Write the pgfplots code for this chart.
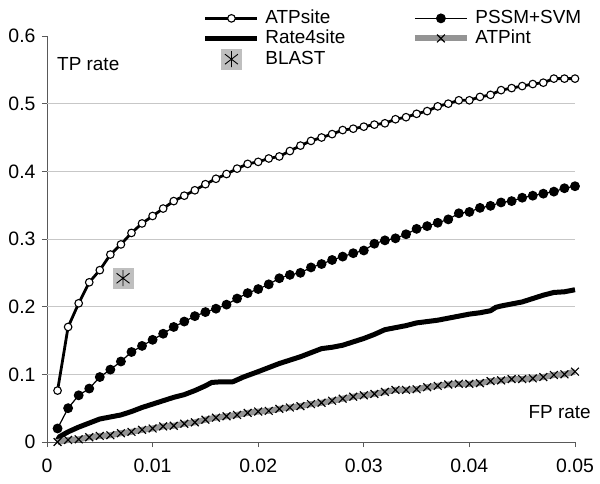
\documentclass[border=0pt]{standalone}
\usepackage{pgfplots}
\usepackage{pgfplotstable}
\pgfplotsset{compat=1.18}
\usepackage{fontspec}
\setmainfont{Liberation Sans}

\pgfdeclareplotmark{blast}{%
  \pgfpathrectangle{\pgfpoint{-10.5bp}{-10.5bp}}{\pgfpoint{21bp}{21bp}}%
  \pgfsetfillcolor{black!25}\pgfusepathqfill
  \pgfsetlinewidth{0.9bp}%
  \pgfpathmoveto{\pgfpoint{0bp}{8bp}}\pgfpathlineto{\pgfpoint{0bp}{-8bp}}%
  \pgfpathmoveto{\pgfpoint{-6.5bp}{5bp}}\pgfpathlineto{\pgfpoint{6.5bp}{-5bp}}%
  \pgfpathmoveto{\pgfpoint{-6.5bp}{-5bp}}\pgfpathlineto{\pgfpoint{6.5bp}{5bp}}%
  \pgfusepathqstroke
}

\pgfplotstableread{
x y
0.001 0.076
0.002 0.170
0.003 0.205
0.004 0.236
0.005 0.254
0.006 0.277
0.007 0.292
0.008 0.309
0.009 0.323
0.010 0.334
0.011 0.345
0.012 0.356
0.013 0.364
0.014 0.372
0.015 0.381
0.016 0.389
0.017 0.396
0.018 0.404
0.019 0.411
0.020 0.414
0.021 0.419
0.022 0.422
0.023 0.430
0.024 0.438
0.025 0.445
0.026 0.450
0.027 0.455
0.028 0.461
0.029 0.463
0.030 0.466
0.031 0.469
0.032 0.471
0.033 0.477
0.034 0.480
0.035 0.485
0.036 0.489
0.037 0.496
0.038 0.500
0.039 0.505
0.040 0.505
0.041 0.510
0.042 0.513
0.043 0.520
0.044 0.523
0.045 0.526
0.046 0.529
0.047 0.531
0.048 0.537
0.049 0.537
0.050 0.537
}\atpsite

\pgfplotstableread{
x y
0.001 0.020
0.002 0.050
0.003 0.069
0.004 0.079
0.005 0.096
0.006 0.107
0.007 0.119
0.008 0.133
0.009 0.142
0.010 0.151
0.011 0.160
0.012 0.170
0.013 0.178
0.014 0.186
0.015 0.192
0.016 0.197
0.017 0.203
0.018 0.212
0.019 0.220
0.020 0.226
0.021 0.233
0.022 0.242
0.023 0.247
0.024 0.250
0.025 0.258
0.026 0.263
0.027 0.269
0.028 0.274
0.029 0.279
0.030 0.283
0.031 0.293
0.032 0.298
0.033 0.301
0.034 0.307
0.035 0.315
0.036 0.319
0.037 0.324
0.038 0.329
0.039 0.338
0.040 0.340
0.041 0.346
0.042 0.349
0.043 0.354
0.044 0.356
0.045 0.361
0.046 0.364
0.047 0.367
0.048 0.370
0.049 0.375
0.050 0.378
}\pssm

\pgfplotstableread{
x y
0.001 0.003
0.0012 0.008
0.002 0.015
0.003 0.022
0.004 0.028
0.005 0.034
0.006 0.037
0.007 0.040
0.008 0.045
0.009 0.051
0.010 0.056
0.011 0.061
0.012 0.066
0.013 0.070
0.014 0.076
0.015 0.083
0.0156 0.088
0.0165 0.089
0.0176 0.089
0.0186 0.096
0.020 0.104
0.021 0.110
0.022 0.116
0.023 0.121
0.024 0.126
0.025 0.132
0.026 0.138
0.027 0.140
0.028 0.143
0.029 0.148
0.030 0.153
0.031 0.159
0.032 0.166
0.033 0.169
0.034 0.172
0.035 0.176
0.036 0.178
0.037 0.180
0.038 0.183
0.039 0.186
0.040 0.189
0.041 0.191
0.042 0.194
0.0425 0.199
0.043 0.201
0.044 0.204
0.045 0.207
0.046 0.212
0.047 0.217
0.048 0.221
0.049 0.222
0.050 0.225
}\ratesite

\pgfplotstableread{
x y
0.001 0.000
0.002 0.003
0.003 0.004
0.004 0.007
0.005 0.009
0.006 0.010
0.007 0.013
0.008 0.015
0.009 0.018
0.010 0.020
0.011 0.023
0.012 0.024
0.013 0.027
0.014 0.029
0.015 0.033
0.016 0.036
0.017 0.038
0.018 0.040
0.019 0.043
0.020 0.045
0.021 0.046
0.022 0.049
0.023 0.051
0.024 0.053
0.025 0.056
0.026 0.058
0.027 0.061
0.028 0.064
0.029 0.067
0.030 0.069
0.031 0.071
0.032 0.074
0.033 0.077
0.034 0.077
0.035 0.078
0.036 0.081
0.037 0.083
0.038 0.085
0.039 0.086
0.040 0.086
0.041 0.087
0.042 0.090
0.043 0.091
0.044 0.093
0.045 0.093
0.046 0.094
0.047 0.096
0.048 0.099
0.049 0.100
0.050 0.104
}\atpint

\begin{document}
\fontsize{19}{21}\selectfont
\begin{tikzpicture}
\useasboundingbox (0,0) rectangle (600bp,484bp);
\begin{axis}[
  at={(47bp,42bp)}, anchor=south west,
  scale only axis, width=528bp, height=406bp,
  xmin=0, xmax=0.05, ymin=0, ymax=0.6,
  axis x line*=bottom, axis y line*=left,
  axis line style={black!65, line width=0.9bp},
  xtick={0,0.01,0.02,0.03,0.04,0.05},
  ytick={0,0.1,0.2,0.3,0.4,0.5,0.6},
  xticklabels={0,0.01,0.02,0.03,0.04,0.05},
  yticklabels={0,0.1,0.2,0.3,0.4,0.5,0.6},
  scaled ticks=false,
  tick align=outside,
  major tick length=5bp,
  tick style={black!65, line width=0.9bp},
  ticklabel style={font=\fontsize{19.5}{21}\selectfont},
  xticklabel style={yshift=-5bp},
  yticklabel style={xshift=0bp},
  extra y ticks={0.1,0.2,0.3,0.4,0.5},
  extra y tick labels={},
  extra y tick style={grid=major, major tick length=0pt},
  grid style={black!22, line width=0.8bp},
  clip=false,
  legend columns=2,
  legend style={draw=none, fill=none, at={(axis description cs:0.295,1.068)}, anchor=north west,
    font=\fontsize{19}{20}\selectfont, inner sep=0pt, row sep=0.5bp,
    nodes={inner sep=1.5bp, anchor=west},
    /tikz/every odd column/.append style={column sep=4bp},
    /tikz/every even column/.append style={column sep=65bp}},
  legend cell align=left,
  legend image code/.code={\draw[mark repeat=2,mark phase=2,#1] plot coordinates {(0bp,0bp) (26bp,0bp) (52bp,0bp)};},
]
\addplot[black, line width=2.8bp, mark=*, mark size=3.8bp, mark options={fill=white, draw=black, line width=1.1bp}] table {\atpsite};
\addlegendentry{ATPsite}
\addplot[black, line width=1.2bp, mark=*, mark size=4.3bp, mark options={fill=black}] table {\pssm};
\addlegendentry{PSSM+SVM}
\addplot[black, line width=5bp, line join=round] table {\ratesite};
\addlegendentry{Rate4site}
\addplot[black!42, line width=6bp, mark=x, mark size=5.5bp, mark options={draw=black, line width=1.2bp}] table {\atpint};
\addlegendentry{ATPint}
\addplot[only marks, mark=blast] coordinates {(0.0072,0.242)};
\addlegendentry{BLAST}
\node[anchor=west, inner sep=0pt] at (axis cs:0.00095,0.558) {TP rate};
\node[anchor=east, inner sep=0pt] at (axis cs:0.0515,0.044) {FP rate};
\end{axis}
\end{tikzpicture}
\end{document}
